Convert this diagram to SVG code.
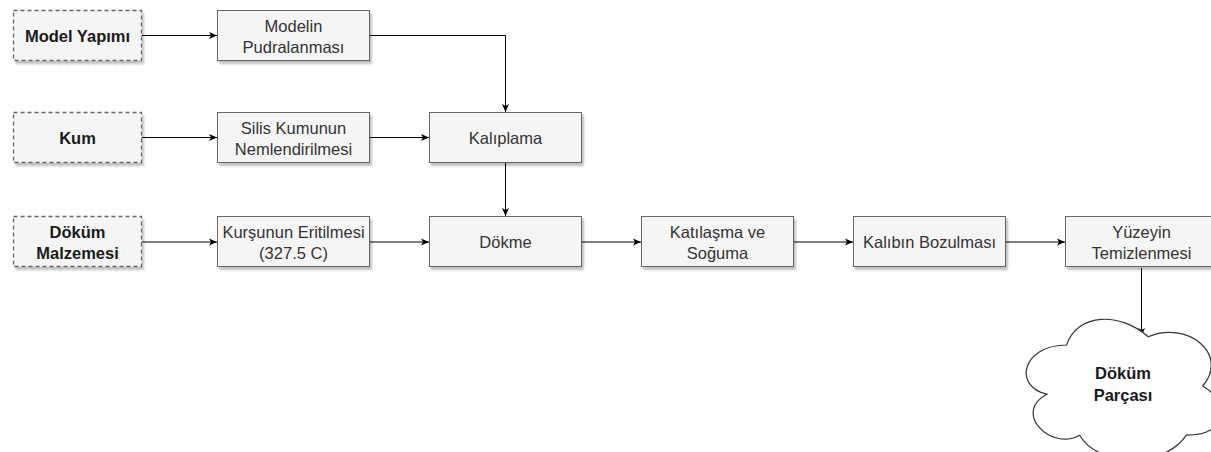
<svg xmlns="http://www.w3.org/2000/svg" width="1211" height="452" viewBox="0 0 1211 452">
<style>
.box{fill:#f5f5f5;stroke:#666666;stroke-width:1}
.dash{fill:#f5f5f5;stroke:#666666;stroke-width:1.3;stroke-dasharray:4 3}
.t{font-family:"Liberation Sans",Arial,sans-serif;font-size:16.5px;fill:#333333;text-anchor:middle;dominant-baseline:central}
.b{font-weight:bold;fill:#1a1a1a}
.c{fill:none;stroke:#000;stroke-width:1;marker-end:url(#ah)}
.cloud{fill:#ffffff;stroke:#333333;stroke-width:1.2}
</style>
<defs>
<filter id="sh" x="-10%" y="-10%" width="130%" height="140%">
<feDropShadow dx="2" dy="3" stdDeviation="1" flood-color="#000" flood-opacity="0.25"/>
</filter>
<marker id="ah" markerWidth="9" markerHeight="8" refX="8" refY="4" orient="auto" markerUnits="userSpaceOnUse">
<path d="M0,0.5 L8,4 L0,7.5 L2,4 Z" fill="#000"/>
</marker>
</defs>
<rect width="1211" height="452" fill="#ffffff"/>

<g id="connectors">
<path class="c" d="M141.5,35.5 H217"/>
<path class="c" d="M370,35.5 H505.5 V112"/>
<path class="c" d="M141.5,137.5 H217"/>
<path class="c" d="M370,137.5 H429"/>
<path class="c" d="M505.5,163 V216"/>
<path class="c" d="M141.5,242 H217"/>
<path class="c" d="M370,242 H429"/>
<path class="c" d="M582,242 H641"/>
<path class="c" d="M794,242 H853"/>
<path class="c" d="M1006,242 H1065"/>
<path class="c" d="M1141.5,268 V336"/>
</g>

<g id="n-model-yapimi">
<rect class="dash" x="13.5" y="10.5" width="128" height="50" filter="url(#sh)"/>
<text class="t b" x="77.5" y="35.5">Model Yapımı</text>
</g>
<g id="n-kum">
<rect class="dash" x="13.5" y="112.5" width="128" height="50" filter="url(#sh)"/>
<text class="t b" x="77.5" y="137.5">Kum</text>
</g>
<g id="n-dokum-malzemesi">
<rect class="dash" x="13.5" y="216.5" width="128" height="50" filter="url(#sh)"/>
<text class="t b" x="77.5" y="232">Döküm</text>
<text class="t b" x="77.5" y="253">Malzemesi</text>
</g>

<g id="n-modelin">
<rect class="box" x="217.5" y="10.5" width="152" height="50" filter="url(#sh)"/>
<text class="t" x="293.5" y="25.5">Modelin</text>
<text class="t" x="293.5" y="46.5">Pudralanması</text>
</g>
<g id="n-silis">
<rect class="box" x="217.5" y="112.5" width="152" height="50" filter="url(#sh)"/>
<text class="t" x="293.5" y="127.5">Silis Kumunun</text>
<text class="t" x="293.5" y="148.5">Nemlendirilmesi</text>
</g>
<g id="n-kursunun">
<rect class="box" x="217.5" y="216.5" width="152" height="50" filter="url(#sh)"/>
<text class="t" x="293.5" y="232">Kurşunun Eritilmesi</text>
<text class="t" x="293.5" y="253">(327.5 C)</text>
</g>
<g id="n-kaliplama">
<rect class="box" x="429.5" y="112.5" width="152" height="50" filter="url(#sh)"/>
<text class="t" x="505.5" y="137.5">Kalıplama</text>
</g>
<g id="n-dokme">
<rect class="box" x="429.5" y="216.5" width="152" height="50" filter="url(#sh)"/>
<text class="t" x="505.5" y="242">Dökme</text>
</g>
<g id="n-katilasma">
<rect class="box" x="641.5" y="216.5" width="152" height="50" filter="url(#sh)"/>
<text class="t" x="717.5" y="232">Katılaşma ve</text>
<text class="t" x="717.5" y="253">Soğuma</text>
</g>
<g id="n-kalibin">
<rect class="box" x="853.5" y="216.5" width="152" height="50" filter="url(#sh)"/>
<text class="t" x="929.5" y="242">Kalıbın Bozulması</text>
</g>
<g id="n-yuzeyin">
<rect class="box" x="1065.5" y="216.5" width="152" height="50" filter="url(#sh)"/>
<text class="t" x="1141.5" y="232">Yüzeyin</text>
<text class="t" x="1141.5" y="253">Temizlenmesi</text>
</g>
<g id="n-dokum-parcasi">
<path class="cloud" transform="translate(1012,304) scale(218,164)" vector-effect="non-scaling-stroke" d="M0.25,0.25 C0.05,0.25 0,0.5 0.16,0.55 C0,0.66 0.18,0.9 0.31,0.8 C0.4,1 0.7,1 0.8,0.8 C1,0.8 1,0.6 0.875,0.5 C1,0.3 0.8,0.1 0.625,0.2 C0.5,0.05 0.3,0.05 0.25,0.25 Z"/>
<text class="t b" x="1123" y="373">Döküm</text>
<text class="t b" x="1123" y="395">Parçası</text>
</g>
</svg>
